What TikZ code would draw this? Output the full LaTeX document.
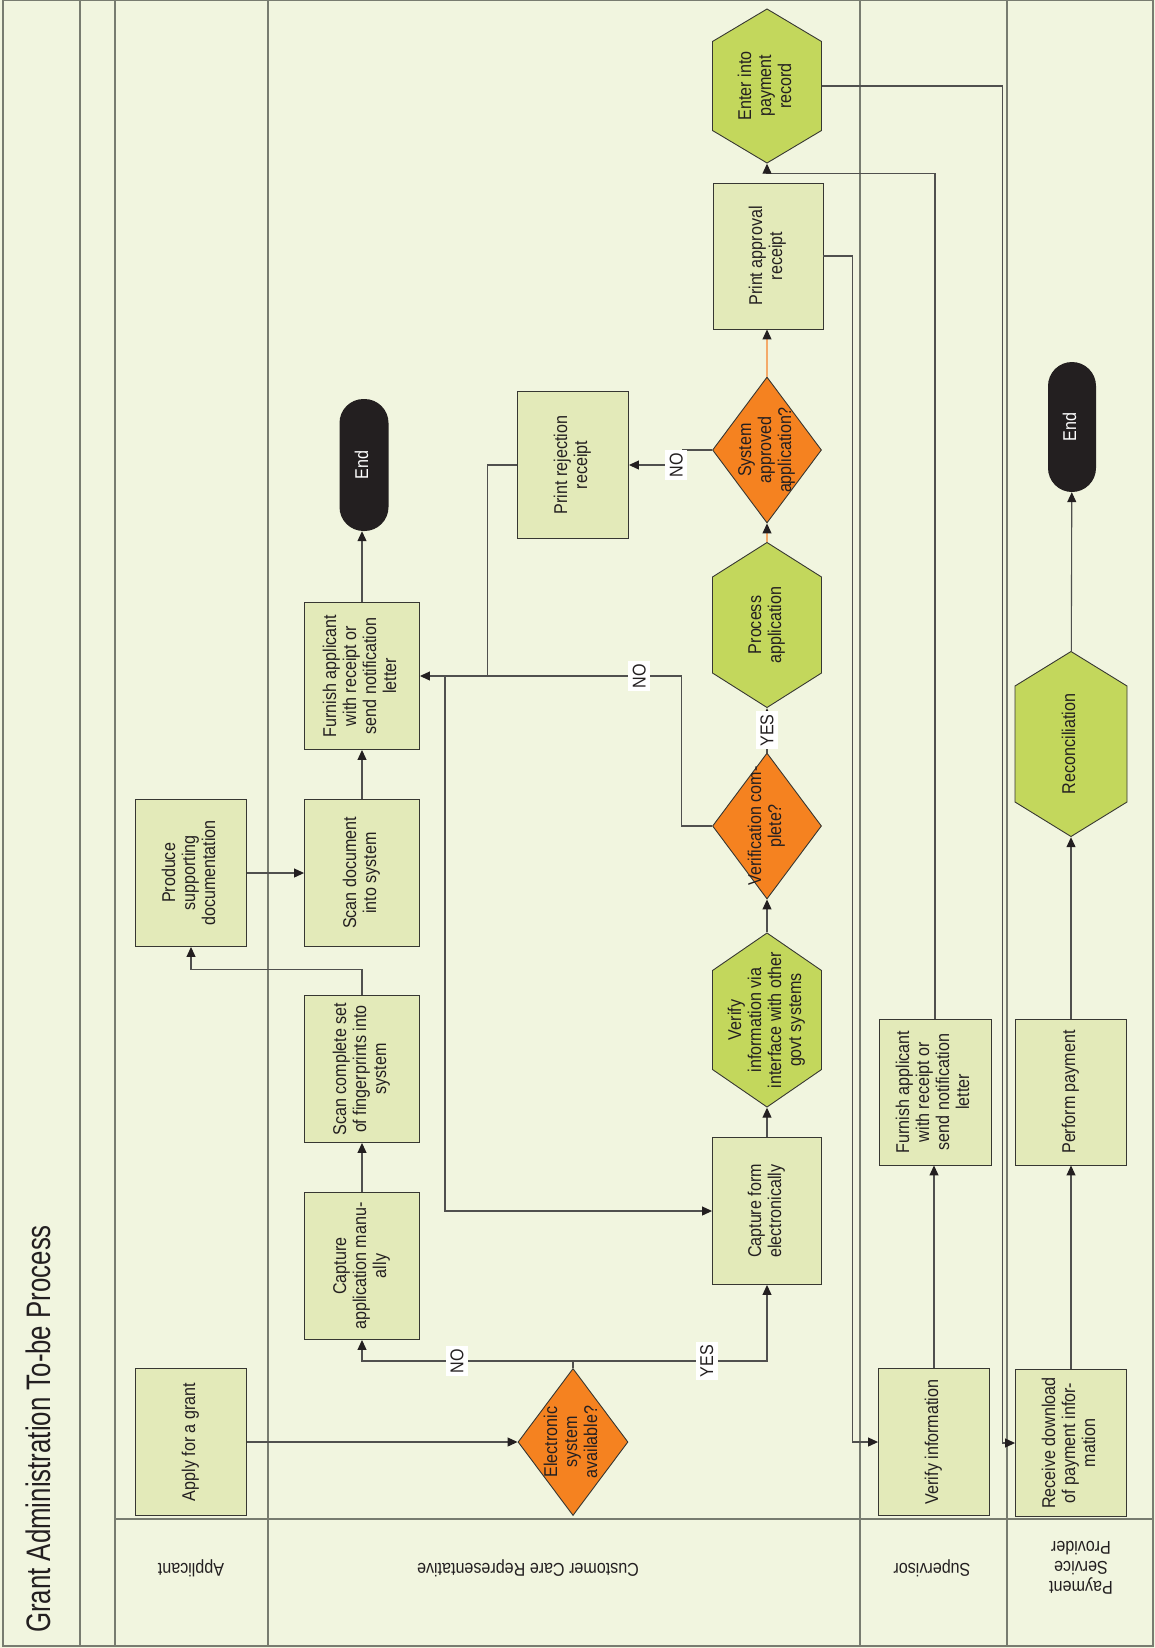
\documentclass[tikz,border=0pt]{standalone}
\usepackage{fontspec}
\setmainfont{Liberation Sans}[FakeStretch=0.87]
\newfontfamily\titlefont{Liberation Sans}[FakeStretch=0.76]
\usetikzlibrary{arrows.meta,calc,shapes.geometric}

\definecolor{bgcol}{RGB}{241,245,223}
\definecolor{boxcol}{RGB}{227,234,185}
\definecolor{hexcol}{RGB}{195,215,92}
\definecolor{decol}{RGB}{245,130,32}
\definecolor{endcol}{RGB}{35,31,32}
\definecolor{txtcol}{RGB}{35,31,32}
\definecolor{boxline}{RGB}{55,55,50}
\definecolor{lanecol}{RGB}{120,124,112}
\definecolor{linecol}{RGB}{80,80,78}
\definecolor{orline}{RGB}{244,170,105}

\newcommand{\rtext}[1]{\makebox[0pt]{\raisebox{-.5\height}[0pt][0pt]{\rotatebox{90}{\begin{tabular}{@{}c@{}}#1\end{tabular}}}}}

\begin{document}
\begin{tikzpicture}[x=1pt, y=-1pt,
	every node/.style={font=\fontsize{18.5}{20}\selectfont, text=txtcol},
	task/.style={draw=boxline, fill=boxcol, line width=0.9pt, minimum width=111pt, minimum height=147pt, inner sep=0pt},
	decision/.style={diamond, draw=boxline, fill=decol, line width=0.9pt, minimum width=110pt, minimum height=147pt, inner sep=0pt},
	hexnode/.style 2 args={fill=bgcol, minimum width=110pt, minimum height=#1pt, inner sep=0pt,
		path picture={\draw[draw=boxline, fill=hexcol, line width=0.9pt]
			([yshift=-0.5pt]path picture bounding box.north)
			-- ([xshift=-0.5pt,yshift=-#2pt]path picture bounding box.north east)
			-- ([xshift=-0.5pt,yshift=#2pt]path picture bounding box.south east)
			-- ([yshift=0.5pt]path picture bounding box.south)
			-- ([xshift=0.5pt,yshift=#2pt]path picture bounding box.south west)
			-- ([xshift=0.5pt,yshift=-#2pt]path picture bounding box.north west) -- cycle;}},
	endnode/.style={fill=endcol, rounded corners=24pt, minimum width=48pt, minimum height=130pt, inner sep=0pt, text=white},
	lbl/.style={fill=white, rotate=90, inner xsep=3pt, inner ysep=4.5pt},
	arr/.style={draw=linecol, line width=1.1pt, -{Triangle[length=10pt,width=9pt,color=endcol]}},
	lane/.style={draw=lanecol, line width=1.2pt}]
	\useasboundingbox (0,0) rectangle (1155,1648);
	\fill[bgcol] (0,0) rectangle (1155,1648);
	\foreach \x in {80, 115, 268, 860, 1007} \draw[lane] (\x,0) -- (\x,1646);
	\draw[lane] (115,1519) -- (1153,1519);
	\draw[lane] (3,0) rectangle (1153,1646);

	\node[rotate=90, font=\titlefont\fontsize{34}{36}\selectfont] (title) at (38,1429) {Grant Administration To-be Process};
	\node[rotate=180] (lapp) at (191,1568) {Applicant};
	\node[rotate=180] (lccr) at (528,1568) {Customer Care Representative};
	\node[rotate=180] (lsup) at (932,1568) {Supervisor};
	\node[rotate=180, align=center] (lpsp) at (1081,1568) {Payment\\Service\\Provider};

	\node[task] (apply) at (191,1442) {\rtext{Apply for a grant}};
	\node[task] (produce) at (191,873) {\rtext{Produce\\supporting\\documentation}};
	\node[decision] (elec) at (573,1442) {\rtext{Electronic\\system\\available?}};
	\node[task, minimum width=115pt] (manual) at (362,1266) {\rtext{Capture\\application manu-\\ally}};
	\node[task, minimum width=115pt] (finger) at (362,1069) {\rtext{Scan complete set\\of fingerprints into\\system}};
	\node[task, minimum width=115pt] (scandoc) at (362,873) {\rtext{Scan document\\into system}};
	\node[task, minimum width=115pt] (furnish) at (362,676) {\rtext{Furnish applicant\\with receipt or\\send notification\\letter}};
	\node[endnode, minimum width=49pt, minimum height=132pt] (endccr) at (364,465) {\rtext{End}};
	\node[task] (reject) at (573,465) {\rtext{Print rejection\\receipt}};
	\node[task, minimum width=109pt] (capelec) at (767,1211) {\rtext{Capture form\\electronically}};
	\node[hexnode={175}{38}] (verhex) at (767,1020) {\rtext{Verify\\information via\\interface with other\\govt systems}};
	\node[decision, minimum width=109pt, minimum height=146pt] (vercomp) at (767,826) {\rtext{Verification com-\\plete?}};
	\node[hexnode={166}{35}] (process) at (767,625) {\rtext{Process\\application}};
	\node[decision, minimum width=109pt, minimum height=146pt] (sysapp) at (767,450) {\rtext{System\\approved\\application?}};
	\node[task, minimum width=110pt, minimum height=146pt] (approval) at (768,256) {\rtext{Print approval\\receipt}};
	\node[hexnode={155}{33}] (enter) at (767,86) {\rtext{Enter into\\payment\\record}};
	\node[task] (verinfo) at (934,1442) {\rtext{Verify information}};
	\node[task, minimum width=112pt, minimum height=146pt] (furnsup) at (935,1092) {\rtext{Furnish applicant\\with receipt or\\send notification\\letter}};
	\node[task] (receive) at (1071,1443) {\rtext{Receive download\\of payment infor-\\mation}};
	\node[task, minimum height=146pt] (perform) at (1071,1092) {\rtext{Perform payment}};
	\node[hexnode={186}{35}, minimum width=113pt] (recon) at (1071,744) {\rtext{Reconciliation}};
	\node[endnode] (endpsp) at (1072,427) {\rtext{End}};

	\coordinate (split) at (573,1361);
	\coordinate (jn) at (445,676);
	\draw[draw=linecol, line width=1.1pt] (elec.north) -- (split);
	\draw[arr] (apply) -- (elec);
	\draw[arr] (split) -| node[lbl, pos=0.275] {NO} (manual.south);
	\draw[arr] (split) -| node[lbl, pos=0.345] {YES} (capelec.south);
	\draw[arr] (manual) -- (finger);
	\draw[arr] (finger.north) -- ++(0,-26) -| (produce.south);
	\draw[arr] (produce) -- (scandoc);
	\draw[arr] (scandoc) -- (furnish);
	\draw[arr] (furnish.north) -- (furnish.north |- endccr.south);
	\draw[arr] (vercomp.west) -- ++(-31,0) |- node[lbl, pos=0.58] {NO} (furnish.east);
	\draw[draw=linecol, line width=1.1pt] (reject.west) -- ++(-30,0) |- (jn);
	\draw[arr] (jn) |- (capelec.west);
	\draw[arr] (capelec) -- (verhex);
	\draw[arr] (verhex) -- (vercomp);
	\draw[arr] (vercomp) -- node[lbl] {YES} (process);
	\draw[arr, draw=orline] (process) -- (sysapp);
	\draw[arr] (sysapp.west) -- ++(-30,0) |- node[lbl, pos=0.555] {NO} (reject.east);
	\draw[arr, draw=orline] (sysapp.north) -- (sysapp.north |- approval.south);
	\draw[arr] (approval.east) -- ++(29,0) |- (verinfo.west);
	\draw[arr] (verinfo.north) -- (verinfo.north |- furnsup.south);
	\draw[arr] (furnsup.north) |- ([yshift=-10pt]enter.south) -- (enter.south);
	\draw[arr] (enter.east) -- ++(180,0) |- (receive.west);
	\draw[arr] (receive) -- (perform);
	\draw[arr] (perform) -- (recon);
	\draw[arr] (recon) -- (endpsp);
\end{tikzpicture}
\end{document}
